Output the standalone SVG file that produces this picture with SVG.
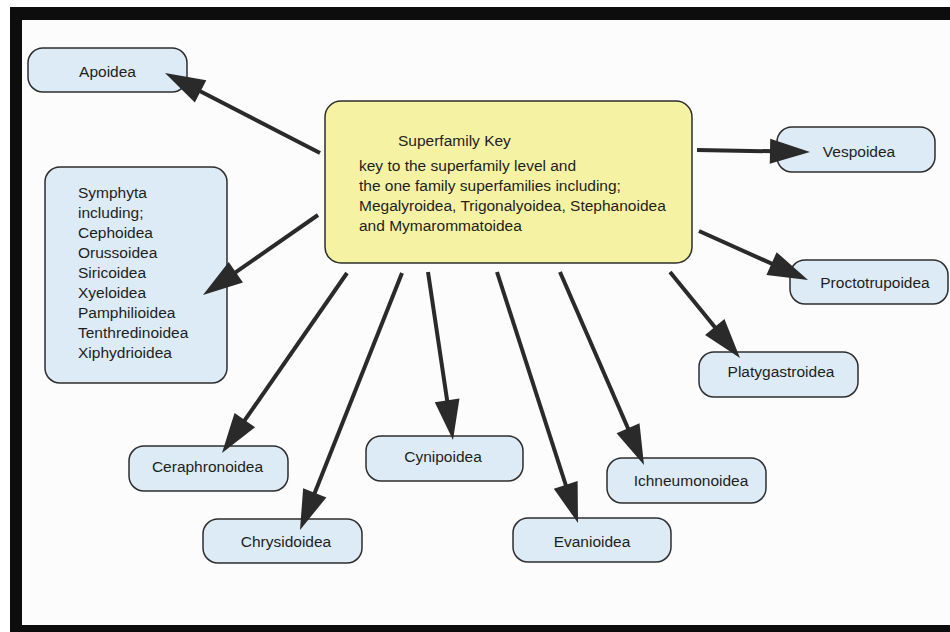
<svg xmlns="http://www.w3.org/2000/svg" width="950" height="632" viewBox="0 0 950 632">
<defs>
<style>
.node rect{fill:#dcebf6;stroke:#2e2e2e;stroke-width:1.5}
.key rect{fill:#f6f2a4;stroke:#2e2e2e;stroke-width:1.5}
text{font-family:"Liberation Sans",Arial,sans-serif;font-size:15.5px;fill:#1e1e1e}
.lbl{text-anchor:middle}
#connectors line{stroke:#2a2a2a;stroke-width:4}
#connectors polygon{fill:#2a2a2a}
</style>
</defs>
<rect x="0" y="0" width="950" height="632" fill="#ffffff"/>
<rect x="10" y="7" width="940" height="625" fill="#0d0d0d"/>
<rect x="22" y="20" width="928" height="605" fill="#fcfcfc"/>

<g id="superfamily-key" class="key">
<rect x="325" y="101" width="367" height="162" rx="16"/>
<text x="398" y="146">Superfamily Key</text>
<text x="359" y="171">key to the superfamily level and</text>
<text x="359" y="191">the one family superfamilies including;</text>
<text x="359" y="211">Megalyroidea, Trigonalyoidea, Stephanoidea</text>
<text x="359" y="231">and Mymarommatoidea</text>
</g>

<g id="apoidea" class="node">
<rect x="28" y="48" width="159" height="44" rx="15"/>
<text class="lbl" x="107.5" y="77">Apoidea</text>
</g>

<g id="symphyta" class="node">
<rect x="45" y="167" width="182" height="216" rx="15"/>
<text x="78" y="198">Symphyta</text>
<text x="78" y="218">including;</text>
<text x="78" y="238">Cephoidea</text>
<text x="78" y="258">Orussoidea</text>
<text x="78" y="278">Siricoidea</text>
<text x="78" y="298">Xyeloidea</text>
<text x="78" y="318">Pamphilioidea</text>
<text x="78" y="338">Tenthredinoidea</text>
<text x="78" y="358">Xiphydrioidea</text>
</g>

<g id="vespoidea" class="node">
<rect x="777" y="127" width="158" height="45" rx="15"/>
<text class="lbl" x="859" y="157">Vespoidea</text>
</g>

<g id="proctotrupoidea" class="node">
<rect x="790" y="260" width="158" height="44" rx="15"/>
<text class="lbl" x="875" y="288">Proctotrupoidea</text>
</g>

<g id="platygastroidea" class="node">
<rect x="699" y="352" width="159" height="45" rx="15"/>
<text class="lbl" x="781" y="377">Platygastroidea</text>
</g>

<g id="ichneumonoidea" class="node">
<rect x="607" y="458" width="159" height="45" rx="15"/>
<text class="lbl" x="691" y="486">Ichneumonoidea</text>
</g>

<g id="evanioidea" class="node">
<rect x="513" y="518" width="158" height="44" rx="15"/>
<text class="lbl" x="592" y="547">Evanioidea</text>
</g>

<g id="cynipoidea" class="node">
<rect x="366" y="436" width="157" height="45" rx="15"/>
<text class="lbl" x="443" y="462">Cynipoidea</text>
</g>

<g id="ceraphronoidea" class="node">
<rect x="129" y="446" width="159" height="45" rx="15"/>
<text class="lbl" x="207.5" y="472">Ceraphronoidea</text>
</g>

<g id="chrysidoidea" class="node">
<rect x="203" y="519" width="159" height="44" rx="15"/>
<text class="lbl" x="286" y="547">Chrysidoidea</text>
</g>

<g id="connectors">
<line x1="320" y1="153" x2="182.8" y2="82.2"/>
<polygon points="165,73 206.3,80.25 194.82,102.47"/>
<line x1="318" y1="215" x2="219.4" y2="283.6"/>
<polygon points="203,295 228.7,261.9 242.98,282.42"/>
<line x1="697" y1="150" x2="790" y2="151.6"/>
<polygon points="810,152 770.22,138.79 769.78,163.79"/>
<line x1="699" y1="231" x2="789.8" y2="271.8"/>
<polygon points="808,280 766.4,275 776.65,252.2"/>
<line x1="670" y1="272" x2="727.4" y2="342.5"/>
<polygon points="740,358 705.07,334.89 724.45,319.11"/>
<line x1="560" y1="272" x2="636" y2="446.7"/>
<polygon points="644,465 616.58,433.31 639.5,423.33"/>
<line x1="497" y1="272" x2="571.9" y2="504"/>
<polygon points="578,523 553.82,488.76 577.62,481.08"/>
<line x1="428" y1="272" x2="450.1" y2="420.2"/>
<polygon points="453,440 434.76,402.28 459.48,398.6"/>
<line x1="402" y1="273" x2="307.4" y2="511.4"/>
<polygon points="300,530 303.15,488.23 326.37,497.45"/>
<line x1="347" y1="273" x2="233.4" y2="436.6"/>
<polygon points="222,453 234.54,413.03 255.06,427.29"/>
</g>
</svg>
